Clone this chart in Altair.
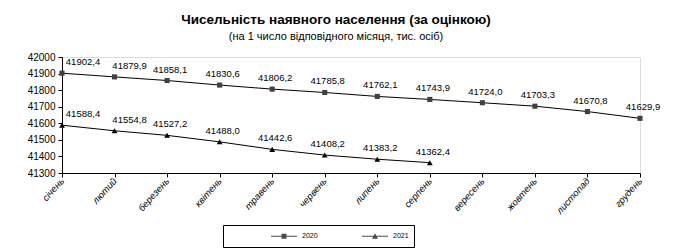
import altair as alt
import pandas as pd

months = ["січень", "лютий", "березень", "квітень", "травень", "червень",
          "липень", "серпень", "вересень", "жовтень", "листопад", "грудень"]
v2020 = [41902.4, 41879.9, 41858.1, 41830.6, 41806.2, 41785.8,
         41762.1, 41743.9, 41724.0, 41703.3, 41670.8, 41629.9]
v2021 = [41588.4, 41554.8, 41527.2, 41488.0, 41442.6, 41408.2, 41383.2, 41362.4]
years = ["2020", "2021"]
y_ticks = [41300, 41400, 41500, 41600, 41700, 41800, 41900, 42000]

rows = []
for i, v in enumerate(v2020):
    rows.append({"month": months[i], "year": years[0], "value": v, "idx": i})
for i, v in enumerate(v2021):
    rows.append({"month": months[i], "year": years[1], "value": v, "idx": i})
df = pd.DataFrame(rows)
df["label"] = df["value"].map(lambda v: f"{v:.1f}".replace(".", ","))

FONT = "Liberation Sans"

x_enc = alt.X("month:N", sort=months,
              scale=alt.Scale(type="point", padding=0),
              axis=alt.Axis(title=None, labelAngle=-48, labelAlign="right",
                            labelBaseline="middle", labelFontStyle="italic",
                            labelFontSize=9.5, labelFont=FONT, labelColor="black",
                            tickSize=4, tickColor="black", domainColor="black",
                            labelPadding=2, labelOverlap=False))
y_enc = alt.Y("value:Q",
              scale=alt.Scale(domain=[41300, 42000], nice=False, zero=False),
              axis=alt.Axis(title=None, values=y_ticks, format="d", grid=False,
                            labelFontSize=10, labelFont=FONT, labelColor="black",
                            tickSize=4, tickColor="black", domainColor="black",
                            labelPadding=3))

base = alt.Chart(df)

lines = base.mark_line(color="black", strokeWidth=1).encode(
    x=x_enc, y=y_enc, detail="year:N")

pts2020 = base.transform_filter(alt.datum.year == "2020").mark_point(
    shape="square", filled=True, color="#404040", size=26, opacity=1).encode(x=x_enc, y=y_enc)
pts2021 = base.transform_filter(alt.datum.year == "2021").mark_point(
    shape="triangle-up", filled=True, color="black", size=34, opacity=1).encode(x=x_enc, y=y_enc)

def labels(filt, dx):
    return base.transform_filter(filt).mark_text(
        dx=dx, dy=-11, fontSize=9.5, font=FONT, color="black", baseline="middle"
    ).encode(x=x_enc, y=y_enc, text="label:N")

lab0 = labels(alt.datum.idx == 0, 21)
lab1 = labels(alt.datum.idx == 1, 15)
lab2 = labels(alt.datum.idx > 1, 3)

path2020 = "M-2.6,-0.1H2.6V0.1H-2.6Z M-0.5,-0.5H0.5V0.5H-0.5Z"
path2021 = "M-2.6,-0.1H2.6V0.1H-2.6Z M0,-0.6L0.6,0.5H-0.6Z"

legend_layer = base.mark_point(filled=True, color="black", clip=True).encode(
    x=x_enc,
    y=alt.value(-1000),
    shape=alt.Shape("year:N",
                    scale=alt.Scale(domain=years, range=[path2020, path2021]),
                    legend=alt.Legend(
                        title=None, orient="none", legendX=161, legendY=168,
                        direction="horizontal", strokeColor="black", fillColor="white",
                        padding=5, symbolSize=100, symbolOffset=50,
                        labelFontSize=7, labelFont=FONT, labelColor="black",
                        labelOffset=12, columnPadding=1,
                        labelExpr="datum.label == '2021' ? datum.label + '                                                  ' : datum.label",
                    )),
)

chart = alt.layer(lines, pts2020, pts2021, lab0, lab1, lab2, legend_layer).properties(
    width=578, height=116,
    autosize=alt.AutoSizeParams(type="none"),
    padding={"left": 62, "top": 57, "right": 34, "bottom": 75},
    title=alt.TitleParams(
        text="Чисельність наявного населення (за оцінкою)",
        subtitle="(на 1 число відповідного місяця, тис. осіб)",
        font=FONT, fontSize=13.5, fontWeight="bold", color="black",
        subtitleFont=FONT, subtitleFontSize=11, subtitleColor="black",
        subtitlePadding=5, anchor="middle", dx=-15, offset=10,
    ),
).configure_view(stroke=None).configure(background="white")

chart.save("out.html", embed_options={"renderer": "svg", "actions": False})
